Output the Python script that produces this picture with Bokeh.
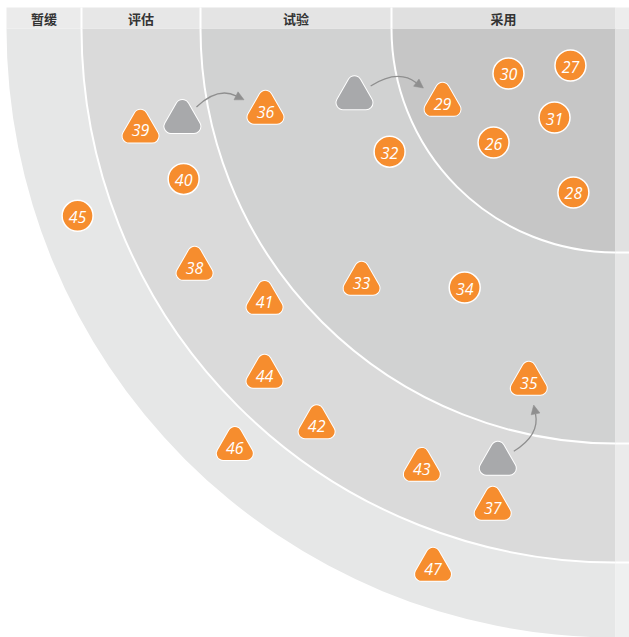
import numpy as np
from bokeh.plotting import figure
from bokeh.models import Range1d
from bokeh.core.properties import value
from bokeh.embed import file_html
from bokeh.resources import INLINE

# ---- data ----
ring_names = ["采用", "试验", "评估", "暂缓"]
ring_inner = [0, 224, 415, 534]
ring_outer = [224, 415, 534, 609]

blip_ids = [26, 27, 28, 29, 30, 31, 32, 33, 34, 35, 36,
            37, 38, 39, 40, 41, 42, 43, 44, 45, 46, 47]
blip_shapes = ["circle", "circle", "circle", "triangle", "circle", "circle",
               "circle", "triangle", "circle", "triangle", "triangle",
               "triangle", "triangle", "triangle", "circle", "triangle",
               "triangle", "triangle", "triangle", "circle", "triangle",
               "triangle"]
# polar position: distance from the radar centre, angle (deg) from the top edge
blip_r = [167.0, 58.3, 169.3, 188.2, 116.1, 107.9, 257.3, 358.5, 299.8, 363.6,
          359.5, 493.6, 483.6, 485.6, 457.3, 444.1, 496.6, 480.0, 492.9, 569.6,
          565.6, 569.2]
blip_angle = [43.1, 39.4, 75.6, 23.2, 22.8, 55.6, 28.6, 44.9, 59.8, 76.2,
              13.2, 75.6, 29.5, 12.0, 19.2, 37.8, 53.0, 66.2, 44.6, 19.2,
              47.7, 71.3]

# previous positions of moved blips
moved_ids = [36, 29, 35]
prev_r = [442.6, 269.6, 448.8]
prev_angle = [11.9, 14.5, 74.8]
arrow_bend = [1, 1, -1]

# ---- styles ----
ring_fill = ["#c6c6c6", "#d1d2d2", "#dadada", "#e6e7e7"]
head_fill = ["#e0e0e0", "#e4e4e4", "#e7e7e7", "#ebebeb"]
strip_fill = ["#e1e1e1", "#e6e6e6", "#ebebeb", "#eff0f0"]
ORANGE = "#f68d2e"
GREY = "#a8a9ab"
HEAD_H = 21
STRIP_W = 14
TRI_SIZE = 23
TRI_LINE = 13


def polar(r, a):
    a = np.radians(np.asarray(a, dtype=float))
    r = np.asarray(r, dtype=float)
    return -r * np.cos(a), -r * np.sin(a)


p = figure(width=629, height=637, x_range=Range1d(-615, 14), y_range=Range1d(-609, 28),
           output_backend="svg", toolbar_location=None, min_border=0,
           x_axis_location=None, y_axis_location=None)
p.grid.visible = False
p.outline_line_color = None
p.background_fill_color = "white"

# rings
p.annular_wedge(x=0, y=0, inner_radius=ring_inner, outer_radius=ring_outer,
                start_angle=np.pi, end_angle=1.5 * np.pi, fill_color=ring_fill,
                line_color=None)
# right strip
p.quad(left=0, right=STRIP_W, top=[-v for v in ring_inner], bottom=[-v for v in ring_outer],
       fill_color=strip_fill, line_color=None)
# header
p.quad(left=[-v for v in ring_outer], right=[-v for v in ring_inner], bottom=0, top=HEAD_H,
       fill_color=head_fill, line_color=None)
p.quad(left=[0], right=[STRIP_W], bottom=[0], top=[HEAD_H], fill_color="#ededed", line_color=None)

# ring boundaries
bounds = ring_inner[1:]
p.arc(x=0, y=0, radius=bounds, start_angle=np.pi, end_angle=1.5 * np.pi,
      line_color="white", line_width=2)
p.segment(x0=[-v for v in bounds], y0=0, x1=[-v for v in bounds], y1=HEAD_H,
          line_color="white", line_width=2)
p.segment(x0=0, y0=[-v for v in bounds], x1=STRIP_W, y1=[-v for v in bounds],
          line_color="white", line_width=2)

# header labels
p.text(x=[-(a + b) / 2 for a, b in zip(ring_inner, ring_outer)], y=HEAD_H / 2 - 0.5,
       text=ring_names, text_align="center", text_baseline="middle",
       text_font=value("Noto Sans CJK SC"), text_font_style="bold",
       text_font_size="13px", text_color="#333333")

# arrows from previous positions
bx, by = polar(blip_r, blip_angle)
pos = {i: np.array([x, y]) for i, x, y in zip(blip_ids, bx, by)}
px, py = polar(prev_r, prev_angle)


def rot(v, deg):
    t = np.radians(deg)
    c, s = np.cos(t), np.sin(t)
    return np.array([v[0] * c - v[1] * s, v[0] * s + v[1] * c])


q = dict(x0=[], y0=[], x1=[], y1=[], cx=[], cy=[])
heads_x, heads_y = [], []
for mid, x0, y0, b in zip(moved_ids, px, py, arrow_bend):
    P = np.array([x0, y0])
    Q = pos[mid]
    d = (Q - P) / np.linalg.norm(Q - P)
    S = P + 19 * rot(d, b * 36)
    E = Q - 24 * rot(d, -b * 33)
    SE = E - S
    L = np.linalg.norm(SE)
    n = rot(SE / L, 90)
    C = (S + E) / 2 + b * n * 0.35 * L
    u = (E - C) / np.linalg.norm(E - C)
    base = E - 9 * u
    w = rot(u, 90) * 4.5
    q["x0"].append(S[0]); q["y0"].append(S[1])
    q["x1"].append(base[0]); q["y1"].append(base[1])
    q["cx"].append(C[0]); q["cy"].append(C[1])
    heads_x.append([E[0], (base + w)[0], (base - w)[0]])
    heads_y.append([E[1], (base + w)[1], (base - w)[1]])

p.quadratic(x0=q["x0"], y0=q["y0"], x1=q["x1"], y1=q["y1"], cx=q["cx"], cy=q["cy"],
            line_color="#8f8f8f", line_width=1.3)
p.patches(xs=heads_x, ys=heads_y, fill_color="#8f8f8f", line_color="#8f8f8f", line_width=0.5)

# previous-position triangles
p.scatter(x=px, y=py, marker="triangle", size=TRI_SIZE, fill_color="white", line_color="white",
          line_width=TRI_LINE + 2, line_join="round")
p.scatter(x=px, y=py, marker="triangle", size=TRI_SIZE, fill_color=GREY, line_color=GREY,
          line_width=TRI_LINE, line_join="round")

# blips
ci = [k for k, s in enumerate(blip_shapes) if s == "circle"]
ti = [k for k, s in enumerate(blip_shapes) if s == "triangle"]
p.scatter(x=bx[ci], y=by[ci], marker="circle", size=31, fill_color=ORANGE,
          line_color="white", line_width=1.5)
p.scatter(x=bx[ti], y=by[ti], marker="triangle", size=TRI_SIZE, fill_color="white",
          line_color="white", line_width=TRI_LINE + 2, line_join="round")
p.scatter(x=bx[ti], y=by[ti], marker="triangle", size=TRI_SIZE, fill_color=ORANGE,
          line_color=ORANGE, line_width=TRI_LINE, line_join="round")

p.text(x=bx, y=by, text=[str(i) for i in blip_ids], text_align="center",
       text_baseline="middle", text_font=value("Open Sans"), text_font_style="italic",
       text_font_size="16px", text_color="white", y_offset=1)

open("out.html", "w").write(file_html(p, INLINE))
